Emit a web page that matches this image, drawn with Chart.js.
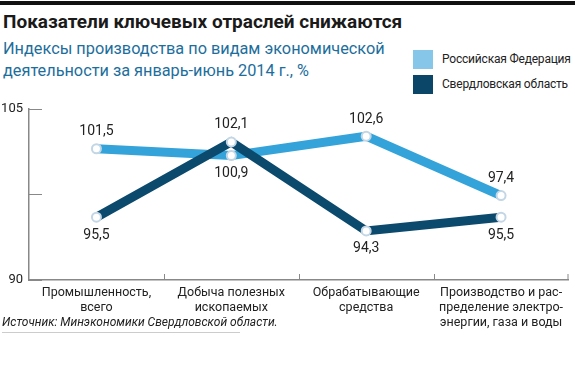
<!DOCTYPE html>
<html>
<head>
<meta charset="utf-8">
<script src="https://cdn.jsdelivr.net/npm/chart.js@4"></script>
<style>
  body { margin: 0; background: #fff; font-family: Roboto, "Liberation Sans", sans-serif; }
  #wrap { position: relative; width: 575px; height: 367px; overflow: hidden; }
  #topbar { position: absolute; left: 0; top: 1px; width: 575px; height: 4px; background: #111; }
  #title { position: absolute; left: 3px; top: 10px; font-size: 19px; font-weight: bold; color: #1a1a1a; white-space: nowrap; }
  #subtitle { position: absolute; left: 3px; top: 38px; font-size: 16.3px; line-height: 22px; color: #1d6e9c; }
  .leg { position: absolute; left: 413px; width: 20px; height: 19px; }
  .legtxt { position: absolute; left: 442px; font-size: 12px; letter-spacing: -0.2px; color: #222; white-space: nowrap; }
  #source { position: absolute; left: 2px; top: 315px; font-size: 12px; font-style: italic; color: #222; padding-bottom: 3px; border-bottom: 1px solid #ccc; width: 238px; white-space: nowrap; }
  #chartBox { position: absolute; left: 0; top: 95px; width: 575px; height: 240px; }
</style>
</head>
<body>
<div id="wrap">
  <div id="topbar"></div>
  <div id="title">Показатели ключевых отраслей снижаются</div>
  <div id="subtitle">Индексы производства по видам экономической<br>деятельности за январь-июнь 2014 г., %</div>
  <div class="leg" style="top:50px; background:#86c6e9;"></div>
  <div class="legtxt" style="top:52px;">Российская Федерация</div>
  <div class="leg" style="top:75px; background:#0b4568;"></div>
  <div class="legtxt" style="top:77px;">Свердловская область</div>
  <div id="chartBox"><canvas id="chart" width="575" height="240"></canvas></div>
  <div id="source">Источник: Минэкономики Свердловской области.</div>
</div>
<script>
/*---------- Data ----------------*/
const categories = [
  ["Промышленность,", "всего"],
  ["Добыча полезных", "ископаемых"],
  ["Обрабатывающие", "средства"],
  ["Производство и рас-", "пределение электро-", "энергии, газа и воды"],
];
const russia = [101.5, 100.9, 102.6, 97.4];
const sverdlovsk = [95.5, 102.1, 94.3, 95.5];
const russiaLabelPos = ["above", "below", "above", "above"];
const sverdlovskLabelPos = ["below", "above", "below", "below"];
const yTicks = [90, 97.5, 105];
const yTickLabels = ["90", "", "105"];

const lightBlue = "#33a3d9";
const darkBlue = "#0b4a6d";

/*---------- Plugin: value labels next to points ----------*/
const valueLabels = {
  id: "valueLabels",
  afterDatasetsDraw(chart) {
    const ctx = chart.ctx;
    ctx.save();
    ctx.font = "14px Roboto, 'Liberation Sans', sans-serif";
    ctx.fillStyle = "#222";
    ctx.textAlign = "center";
    ctx.textBaseline = "middle";
    chart.data.datasets.forEach((ds, i) => {
      const meta = chart.getDatasetMeta(i);
      meta.data.forEach((pt, j) => {
        const off = ds.labelPos[j] === "above" ? -17 : 18;
        ctx.fillText(ds.data[j].toFixed(1).replace(".", ","), pt.x, pt.y + off);
      });
    });
    ctx.restore();
  },
};

/*---------- Plugin: short inward tick marks ----------*/
const innerTicks = {
  id: "innerTicks",
  afterDraw(chart) {
    const ctx = chart.ctx;
    const x = chart.scales.x;
    const y = chart.scales.y;
    ctx.save();
    ctx.strokeStyle = "#888";
    ctx.lineWidth = 1;
    // category boundaries on x axis
    for (let i = 0; i < categories.length; i++) {
      const bx = Math.round((x.getPixelForValue(i) + x.getPixelForValue(i + 1)) / 2) + 0.5;
      const px = i === categories.length - 1 ? x.right - 0.5 : bx;
      ctx.beginPath();
      ctx.moveTo(px, y.bottom);
      ctx.lineTo(px, y.bottom - 6);
      ctx.stroke();
    }
    // y ticks pointing right
    yTicks.forEach((v) => {
      const py = Math.round(y.getPixelForValue(v)) + 0.5;
      ctx.beginPath();
      ctx.moveTo(x.left, py);
      ctx.lineTo(x.left + 13, py);
      ctx.stroke();
    });
    ctx.restore();
  },
};

const chart = new Chart(document.getElementById("chart"), {
  type: "line",
  data: {
    labels: categories,
    datasets: [
      {
        label: "Свердловская область",
        data: sverdlovsk,
        labelPos: sverdlovskLabelPos,
        borderColor: darkBlue,
        borderWidth: 9,
        order: 0,
      },
      {
        label: "Российская Федерация",
        data: russia,
        labelPos: russiaLabelPos,
        borderColor: lightBlue,
        borderWidth: 9,
        order: 1,
      },
    ].map((d) => Object.assign(d, {
      tension: 0,
      pointRadius: 4.5,
      pointBackgroundColor: "#fff",
      pointBorderColor: "#c3d6e6",
      pointBorderWidth: 2,
    })),
  },
  options: {
    responsive: false,
    animation: false,
    layout: { padding: { top: 7, right: 0, left: 0, bottom: 0 } },
    plugins: {
      legend: { display: false },
      tooltip: { enabled: false },
    },
    scales: {
      x: {
        offset: true,
        grid: { display: false, drawTicks: false },
        border: { display: true, color: "#888", width: 1.5 },
        ticks: {
          color: "#222",
          font: { size: 12.5, family: "Roboto, 'Liberation Sans', sans-serif" },
          padding: 5,
          maxRotation: 0,
          autoSkip: false,
        },
      },
      y: {
        min: 90,
        max: 105,
        afterFit(scale) { scale.width = 29; },
        afterBuildTicks(scale) { scale.ticks = yTicks.map((v) => ({ value: v })); },
        grid: { display: false, drawTicks: false },
        border: { display: true, color: "#888", width: 1.5 },
        ticks: {
          color: "#222",
          padding: 6,
          font: { size: 13, family: "Roboto, 'Liberation Sans', sans-serif" },
          callback: (v) => yTickLabels[yTicks.indexOf(v)],
        },
      },
    },
  },
  plugins: [valueLabels, innerTicks],
});
</script>
</body>
</html>
